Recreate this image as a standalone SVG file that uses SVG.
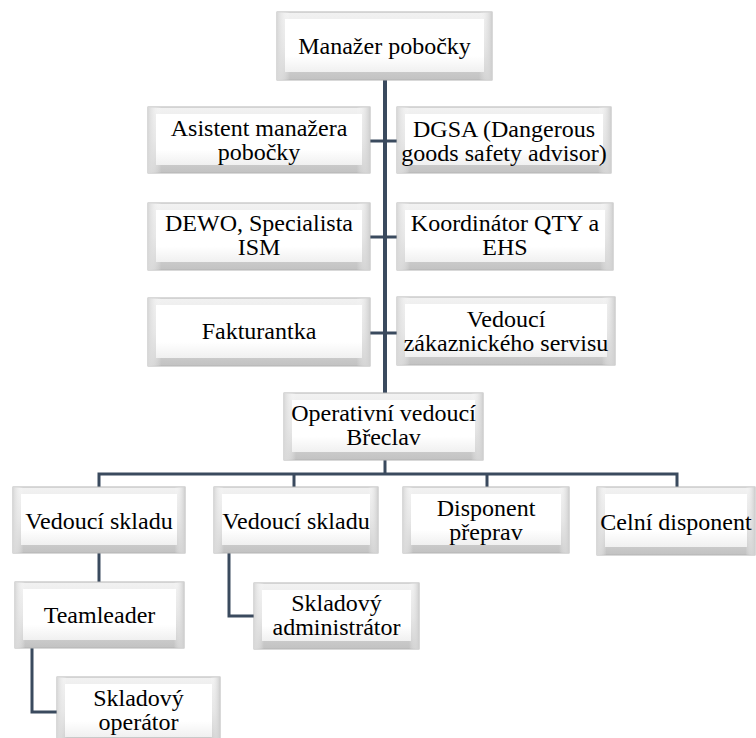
<svg xmlns="http://www.w3.org/2000/svg" width="756" height="738" viewBox="0 0 756 738">
<defs>
<linearGradient id="edge" x1="0" y1="0" x2="0" y2="1">
<stop offset="0" stop-color="#f2f2f2"/>
<stop offset="0.5" stop-color="#e2e2e2"/>
<stop offset="1" stop-color="#c2c2c2"/>
</linearGradient>
<linearGradient id="side" x1="0" y1="0" x2="1" y2="0">
<stop offset="0" stop-color="#d8d8d8"/>
<stop offset="0.06" stop-color="#ffffff" stop-opacity="0"/>
<stop offset="0.94" stop-color="#ffffff" stop-opacity="0"/>
<stop offset="1" stop-color="#cfcfcf"/>
</linearGradient>
<linearGradient id="face" x1="0" y1="0" x2="0" y2="1">
<stop offset="0" stop-color="#ffffff"/>
<stop offset="0.7" stop-color="#ffffff"/>
<stop offset="1" stop-color="#f0f0f0"/>
</linearGradient>
</defs>
<style>
.frame{fill:url(#edge);stroke:#b4b4b4;stroke-width:1}
.sh{fill:url(#side)}
.face{fill:url(#face)}
.t{font-family:'Liberation Serif','Times New Roman',serif;font-size:24px;fill:#000;text-anchor:middle}
.c{fill:none;stroke:#3a4a5e;stroke-width:3}
.trunk{fill:none;stroke:#3a4a5e;stroke-width:4}
</style>
<rect width="756" height="738" fill="#fff"/>
<g id="connectors">
<line class="trunk" x1="385" y1="80" x2="385" y2="393"/>
<line class="c" x1="370" y1="141" x2="397" y2="141"/>
<line class="c" x1="370" y1="237" x2="397" y2="237"/>
<line class="c" x1="370" y1="333" x2="397" y2="333"/>
<line class="c" x1="385" y1="460" x2="385" y2="474"/>
<path class="c" d="M99,487 V474 H677 V487"/>
<line class="c" x1="294" y1="474" x2="294" y2="487"/>
<line class="c" x1="487" y1="474" x2="487" y2="487"/>
<line class="c" x1="99" y1="553" x2="99" y2="582"/>
<path class="c" d="M229,553 V616 H254"/>
<path class="c" d="M32,648 V712 H57"/>
</g>
<g class="t">
<g id="n-manazer">
<rect class="frame" x="277" y="12" width="215" height="68"/><rect class="sh" x="277" y="12" width="215" height="68"/>
<rect class="face" x="285" y="19" width="199" height="53"/>
<text x="384.5" y="54">Manažer pobočky</text>
</g>
<g id="n-asistent">
<rect class="frame" x="148" y="107" width="222" height="66"/><rect class="sh" x="148" y="107" width="222" height="66"/>
<rect class="face" x="156" y="114" width="206" height="51"/>
<text x="259" y="136">Asistent manažera</text><text x="259" y="160">pobočky</text>
</g>
<g id="n-dgsa">
<rect class="frame" x="397" y="107" width="214" height="66"/><rect class="sh" x="397" y="107" width="214" height="66"/>
<rect class="face" x="405" y="114" width="198" height="51"/>
<text x="504" y="137">DGSA (Dangerous</text><text x="504" y="161">goods safety advisor)</text>
</g>
<g id="n-dewo">
<rect class="frame" x="148" y="203" width="222" height="67"/><rect class="sh" x="148" y="203" width="222" height="67"/>
<rect class="face" x="156" y="210" width="206" height="52"/>
<text x="259" y="231">DEWO, Specialista</text><text x="259" y="255">ISM</text>
</g>
<g id="n-koordinator">
<rect class="frame" x="397" y="203" width="216" height="67"/><rect class="sh" x="397" y="203" width="216" height="67"/>
<rect class="face" x="405" y="210" width="200" height="52"/>
<text x="505" y="231">Koordinátor QTY a</text><text x="505" y="255">EHS</text>
</g>
<g id="n-fakturantka">
<rect class="frame" x="148" y="298" width="222" height="68"/><rect class="sh" x="148" y="298" width="222" height="68"/>
<rect class="face" x="156" y="305" width="206" height="53"/>
<text x="259" y="339">Fakturantka</text>
</g>
<g id="n-zakaznicky">
<rect class="frame" x="397" y="297" width="218" height="68"/><rect class="sh" x="397" y="297" width="218" height="68"/>
<rect class="face" x="405" y="304" width="202" height="53"/>
<text x="506" y="327">Vedoucí</text><text x="506" y="351">zákaznického servisu</text>
</g>
<g id="n-operativni">
<rect class="frame" x="284" y="393" width="199" height="67"/><rect class="sh" x="284" y="393" width="199" height="67"/>
<rect class="face" x="292" y="400" width="183" height="52"/>
<text x="383.5" y="421">Operativní vedoucí</text><text x="383.5" y="445">Břeclav</text>
</g>
<g id="n-vedouci1">
<rect class="frame" x="13" y="487" width="172" height="66"/><rect class="sh" x="13" y="487" width="172" height="66"/>
<rect class="face" x="21" y="494" width="156" height="51"/>
<text x="99" y="529">Vedoucí skladu</text>
</g>
<g id="n-vedouci2">
<rect class="frame" x="214" y="487" width="164" height="66"/><rect class="sh" x="214" y="487" width="164" height="66"/>
<rect class="face" x="222" y="494" width="148" height="51"/>
<text x="296" y="529">Vedoucí skladu</text>
</g>
<g id="n-disponent">
<rect class="frame" x="403" y="487" width="166" height="66"/><rect class="sh" x="403" y="487" width="166" height="66"/>
<rect class="face" x="411" y="494" width="150" height="51"/>
<text x="486" y="516">Disponent</text><text x="486" y="540">přeprav</text>
</g>
<g id="n-celni">
<rect class="frame" x="597" y="487" width="158" height="68"/><rect class="sh" x="597" y="487" width="158" height="68"/>
<rect class="face" x="605" y="494" width="142" height="53"/>
<text x="676" y="530">Celní disponent</text>
</g>
<g id="n-teamleader">
<rect class="frame" x="15" y="582" width="169" height="66"/><rect class="sh" x="15" y="582" width="169" height="66"/>
<rect class="face" x="23" y="589" width="153" height="51"/>
<text x="99.5" y="623">Teamleader</text>
</g>
<g id="n-administrator">
<rect class="frame" x="254" y="583" width="165" height="66"/><rect class="sh" x="254" y="583" width="165" height="66"/>
<rect class="face" x="262" y="590" width="149" height="51"/>
<text x="336.5" y="611">Skladový</text><text x="336.5" y="635">administrátor</text>
</g>
<g id="n-operator">
<rect class="frame" x="57" y="677" width="163" height="68"/><rect class="sh" x="57" y="677" width="163" height="68"/>
<rect class="face" x="65" y="684" width="147" height="53"/>
<text x="138.5" y="706">Skladový</text><text x="138.5" y="730">operátor</text>
</g>
</g>
</svg>
